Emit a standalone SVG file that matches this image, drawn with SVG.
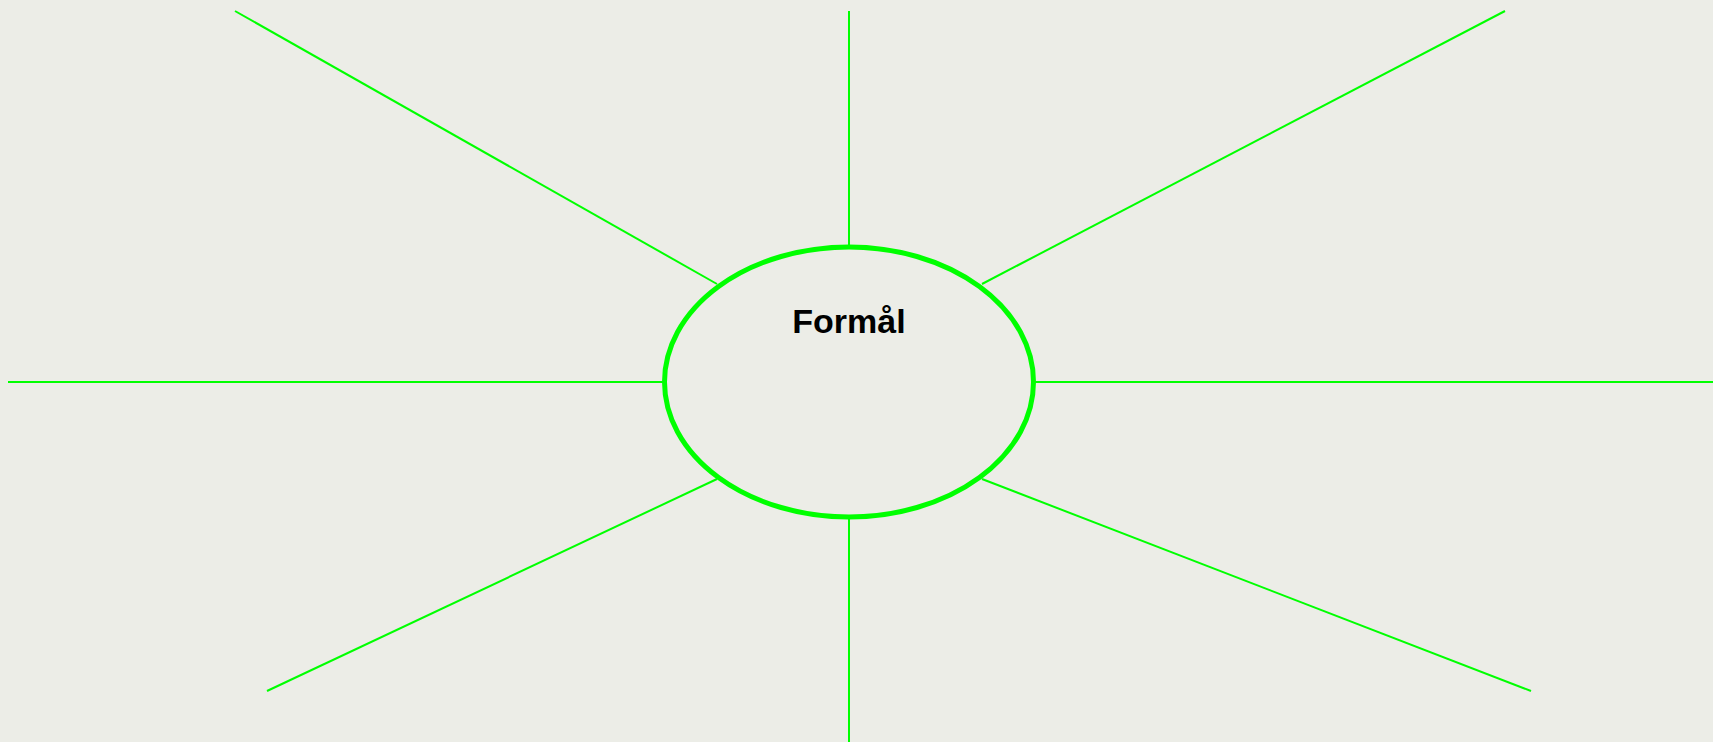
<svg xmlns="http://www.w3.org/2000/svg" width="1713" height="742" viewBox="0 0 1713 742">
<style>
.c{stroke:#00ff00;stroke-width:2;fill:none}
.n{stroke:#00ff00;stroke-width:5;fill:#ecede7}
.t{font-family:"Liberation Sans",Arial,sans-serif;font-size:34px;font-weight:bold;fill:#000;text-anchor:middle}
</style>
<rect width="1713" height="742" fill="#ecede7"/>
<g id="connectors">
<line class="c" x1="235" y1="11" x2="717" y2="284"/>
<line class="c" x1="849" y1="11" x2="849" y2="245"/>
<line class="c" x1="1505" y1="11" x2="982" y2="284"/>
<line class="c" x1="8" y1="382" x2="664" y2="382"/>
<line class="c" x1="1034" y1="382" x2="1713" y2="382"/>
<line class="c" x1="267" y1="691" x2="717" y2="479"/>
<line class="c" x1="1531" y1="691" x2="982" y2="479"/>
<line class="c" x1="849" y1="518" x2="849" y2="742"/>
</g>
<g id="node-formal">
<ellipse class="n" cx="849" cy="382" rx="184.5" ry="135"/>
<text class="t" x="849" y="333">Formål</text>
</g>
</svg>
